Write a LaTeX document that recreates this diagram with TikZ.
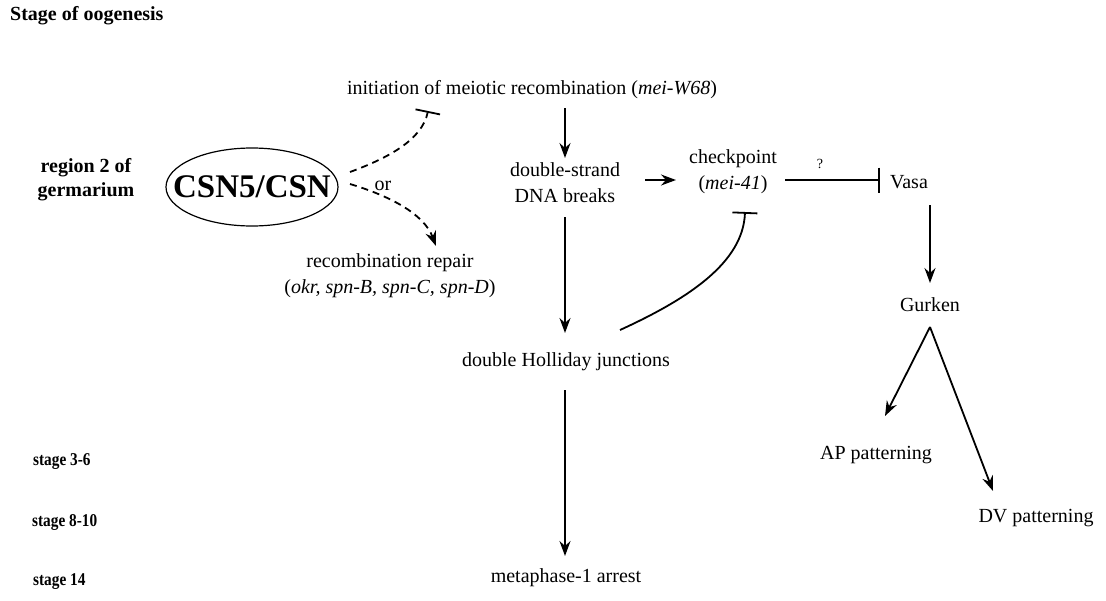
\documentclass[tikz,border=0pt]{standalone}
\usepackage{fontspec}
\setmainfont{Liberation Serif}
\newfontfamily\condfam[FakeStretch=0.85]{Liberation Serif}
\usetikzlibrary{arrows.meta,shapes.geometric}
\begin{document}
\begin{tikzpicture}[x=1pt,y=-1pt,
  txt/.style={font=\fontsize{20}{26}\selectfont, inner sep=0pt, align=center},
  lbl/.style={font=\fontsize{20}{24}\selectfont\bfseries, inner sep=0pt},
  slbl/.style={font=\fontsize{18}{22}\selectfont\condfam\bfseries, inner sep=0pt, anchor=west},
  tip/.style={-{Stealth[length=15pt,width=11pt,inset=5pt]}},
  arr/.style={line width=1.8pt, tip},
  bar/.style={-{Bar[width=25pt,line width=1.8pt]}},
  inh/.style={line width=1.8pt, bar},
  dsh/.style={line width=1.8pt, dash pattern=on 7pt off 5pt},
]
\useasboundingbox (0,0) rectangle (1106,600);
% stage labels
\node[lbl, anchor=west] (stage) at (10,16) {Stage of oogenesis};
\node[lbl, align=center] (reg) at (86,180) {region 2 of\\germarium};
\node[slbl] (s36) at (33,462) {stage 3-6};
\node[slbl] (s810) at (32,522) {stage 8-10};
\node[slbl] (s14) at (33,582) {stage 14};
% CSN
\node[draw, ellipse, line width=1.2pt, minimum width=172pt, minimum height=78pt, inner sep=0pt] (csn) at (252,187) {};
\node[font=\fontsize{33}{36}\selectfont\bfseries, inner sep=0pt] (csnt) at (csn.center) {CSN5/CSN};
\node[txt] (or) at (383,186) {or};
% main nodes
\node[txt] (init) at (532,90) {initiation of meiotic recombination (\textit{mei-W68})};
\node[txt] (dsb) at (565,183) {double-strand\\DNA breaks};
\node[txt] (ck) at (733,172) {checkpoint\\(\textit{mei-41})};
\node[txt] (rep) at (390,276) {recombination repair\\(\textit{okr, spn-B, spn-C, spn-D})};
\node[txt] (dhj) at (566,362) {double Holliday junctions};
\node[txt] (meta) at (566,578) {metaphase-1 arrest};
\node[txt] (vasa) at (909,182) {Vasa};
\node[txt] (gur) at (930,305) {Gurken};
\node[txt] (ap) at (876,455) {AP patterning};
\node[txt] (dv) at (1036,518) {DV patterning};
\node[font=\fontsize{14}{16}\selectfont, inner sep=0pt] (q) at (820,164) {?};
% connector ends
\coordinate (initOut) at (565,108);
\coordinate (dsbIn)   at (565,158);
\coordinate (dsbOut)  at (645,180);
\coordinate (ckIn)    at (676,180);
\coordinate (ckOut)   at (785,180);
\coordinate (vasaIn)  at (880,180);
\coordinate (vasaOut) at (930,205);
\coordinate (gurIn)   at (930,283);
\coordinate (gurOut)  at (930,327);
\coordinate (apIn)    at (885,416);
\coordinate (dvIn)    at (993,491);
\coordinate (dsbDown) at (565,217);
\coordinate (dhjIn)   at (565,333);
\coordinate (dhjOut)  at (565,390);
\coordinate (metaIn)  at (565,556);
\coordinate (dhjFb)   at (620,330);
\coordinate (ckBar)   at (745,212);
\coordinate (csnUp)   at (350,172);
\coordinate (initBar) at (428,111);
\coordinate (csnDn)   at (350,184);
\coordinate (repIn)   at (436,246);
% connectors
\draw[arr] (initOut) -- (dsbIn);
\draw[arr] (dsbOut) -- (ckIn);
\draw[inh] (ckOut) -- (vasaIn);
\draw[arr] (vasaOut) -- (gurIn);
\draw[arr] (gurOut) -- (apIn);
\draw[arr] (gurOut) -- (dvIn);
\draw[arr] (dsbDown) -- (dhjIn);
\draw[arr] (dhjOut) -- (metaIn);
\draw[inh] (dhjFb) .. controls (690,298) and (743,262) .. (ckBar);
\draw[dsh, bar] (csnUp) .. controls (388,158) and (422,140) .. (initBar);
\draw[dsh, tip] (csnDn) .. controls (390,196) and (424,214) .. (repIn);
\end{tikzpicture}
\end{document}
